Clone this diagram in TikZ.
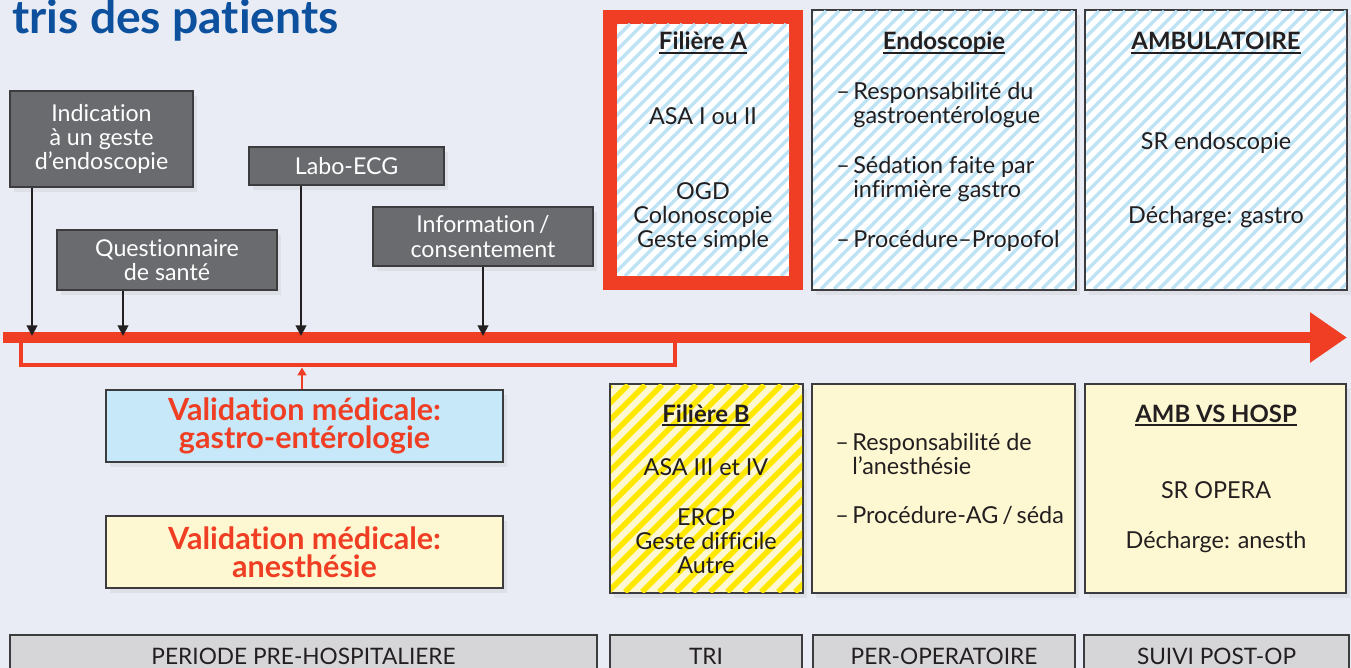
\documentclass[tikz,border=0pt]{standalone}
\usepackage{fontspec}
\setmainfont[Ligatures=NoCommon]{Lato}
\usetikzlibrary{arrows.meta, positioning, shadows}

\definecolor{bgcol}{RGB}{233,236,244}
\definecolor{redline}{RGB}{239,62,35}
\definecolor{boxgray}{RGB}{106,107,111}
\definecolor{edgegray}{RGB}{60,60,62}
\definecolor{titleblue}{RGB}{12,80,158}
\definecolor{stripeblue}{RGB}{190,227,245}
\definecolor{valblue}{RGB}{198,232,248}
\definecolor{paleyellow}{RGB}{254,248,210}
\definecolor{stripeyellow}{RGB}{255,232,0}
\definecolor{bargray}{RGB}{214,214,216}
\definecolor{textdark}{RGB}{35,31,32}

% underline that ignores descenders
\newcommand{\ulbox}[1]{\setbox0\hbox{#1}\rlap{\rule[-2pt]{\wd0}{1.1pt}}\box0}
\newcommand{\itemdash}{\makebox[0.34cm][l]{–}}
\newcommand{\itemgap}{\hspace*{0.34cm}}
% diagonal stripes inside a rectangle
\newcommand{\hatchfill}[6]{%
  \begin{scope}
    \clip (#1,#2) rectangle (#3,#4);
    \pgfmathtruncatemacro{\nstripe}{(#3-#1+#4-#2)/#5+1}
    \foreach \i in {0,...,\nstripe}
      \draw[#6] ({#1-(#4-#2)+\i*#5},#4) -- ++({#4-#2},{-(#4-#2)});
  \end{scope}}

\begin{document}
\begin{tikzpicture}[x=0.02cm, y=-0.02cm,
    boxsize/.style 2 args={minimum width=#1*0.02cm, minimum height=#2*0.02cm},
    soft/.style={drop shadow={opacity=0.1, shadow xshift=2pt, shadow yshift=-3pt}},
    greybox/.style={soft, draw=edgegray, fill=boxgray, text=white, line width=0.9pt, align=center, inner sep=0pt, font=\fontsize{13.2}{13.9}\selectfont},
    valbox/.style={soft, draw=edgegray, line width=0.7pt, align=center, inner sep=0pt, text=redline, font=\fontsize{17.4}{16.2}\selectfont\bfseries},
    panel/.style={soft, draw=edgegray, line width=0.9pt, inner sep=0pt},
    phase/.style={draw=edgegray, fill=bargray, line width=0.9pt, inner sep=0pt, text=textdark, font=\fontsize{12.9}{12.9}\selectfont},
    paneltext/.style={text=textdark, align=center, inner sep=0pt, anchor=base, font=\fontsize{13.3}{13.66}\selectfont},
    paneltitle/.style={paneltext, font=\fontsize{13.6}{13.66}\selectfont\bfseries},
    itemtext/.style={paneltext, align=left, anchor=base west},
    stripeA/.style={stripeblue, line width=0.07cm},
    stripeB/.style={stripeyellow, line width=0.11cm},
    pointer/.style={-{Triangle[length=6pt,width=6pt]}, line width=1.1pt, textdark},
  ]
  \clip (0,0) rectangle (1351,668);
  \fill[bgcol] (0,0) rectangle (1351,668);

  \node[anchor=base west, inner sep=0pt, text=titleblue, font=\fontsize{26.3}{26}\selectfont\bfseries] (title) at (12,34) {tris des patients};

  % steps before the procedure
  \node[greybox, boxsize={183}{96}] (indic) at (101.5,139) {Indication\\à un geste\\d’endoscopie};
  \node[greybox, boxsize={220}{60}] (quest) at (167,260) {Questionnaire\\de santé};
  \node[greybox, boxsize={195}{38}] (labo) at (346.5,166) {Labo-ECG};
  \node[greybox, boxsize={220}{59}] (info) at (483,236.5) {Information\,/\\consentement};

  % time line
  \draw[redline, line width=0.22cm, -{Triangle[length=0.74cm, width=0.96cm]}] (3,337.5) -- (1347,337.5);
  \draw[redline, line width=0.08cm] (21,343) |- (675,365.5) -- (675,343);
  \coordinate (t1) at (32,336);
  \coordinate (t2) at (123,336);
  \coordinate (t3) at (301,336);
  \coordinate (t4) at (483,336);
  \coordinate (brk) at (302,367.5);
  \draw[pointer] (indic.south -| t1) -- (t1);
  \draw[pointer] (quest.south -| t2) -- (t2);
  \draw[pointer] (labo.south -| t3) -- (t3);
  \draw[pointer] (info.south -| t4) -- (t4);

  % validation
  \node[valbox, fill=valblue, boxsize={397}{72}] (valgastro) at (304.5,426) {Validation médicale:\\gastro-entérologie};
  \node[valbox, fill=paleyellow, boxsize={397}{72}] (valanest) at (304.5,552) {Validation médicale:\\anesthésie};
  \draw[redline, line width=0.05cm, -{Triangle[length=4.5pt,width=5pt]}] (valgastro.north -| brk) -- (brk);

  % panels
  \node[panel, draw=redline, line width=0.28cm, fill=white, boxsize={186}{266}] (filA) at (703,150) {};
  \node[panel, fill=white, boxsize={264}{280}] (endo) at (944,150) {};
  \node[panel, fill=white, boxsize={262}{280}] (ambu) at (1216,150) {};
  \node[panel, fill=paleyellow, boxsize={193}{209}] (filB) at (706.5,488.5) {};
  \node[panel, fill=paleyellow, boxsize={263}{209}] (perop) at (943.5,488.5) {};
  \node[panel, fill=paleyellow, boxsize={261}{209}] (hosp) at (1215.5,488.5) {};
  \hatchfill{617}{24}{789}{276}{13}{stripeA}
  \hatchfill{813}{11}{1075}{289}{13}{stripeA}
  \hatchfill{1086}{11}{1346}{289}{13}{stripeA}
  \hatchfill{611}{385}{802}{592}{17}{stripeB}

  \node[paneltitle] (filAtitle) at (703,50) {\ulbox{Filière A}};
  \node[paneltext] (filAasa) at (703,125) {ASA I ou II};
  \node[paneltext] (filAgeste) at (703,248) {OGD\\Colonoscopie\\Geste simple};

  \node[paneltitle] (endotitle) at (944,50) {\ulbox{Endoscopie}};
  \node[itemtext] (endo1) at (836,124) {\itemdash Responsabilité du\\\itemgap gastroentérologue};
  \node[itemtext] (endo2) at (836,198) {\itemdash Sédation faite par\\\itemgap infirmière gastro};
  \node[itemtext] (endo3) at (836,248) {\itemdash Procédure–Propofol};

  \node[paneltitle] (ambutitle) at (1216,50) {\ulbox{AMBULATOIRE}};
  \node[paneltext] (ambusr) at (1216,150) {SR endoscopie};
  \node[paneltext] (ambudech) at (1216,224) {Décharge: gastro};

  \node[paneltitle] (filBtitle) at (706,422) {\ulbox{Filière B}};
  \node[paneltext] (filBasa) at (706,475) {ASA III et IV};
  \node[paneltext] (filBgeste) at (706,573) {ERCP\\Geste difficile\\Autre};

  \node[itemtext] (perop1) at (835,474) {\itemdash Responsabilité de\\\itemgap l’anesthésie};
  \node[itemtext] (perop2) at (835,523) {\itemdash Procédure-AG\,/\,séda};

  \node[paneltitle] (hosptitle) at (1216,422) {\ulbox{AMB VS HOSP}};
  \node[paneltext] (hospsr) at (1216,498) {SR OPERA};
  \node[paneltext] (hospdech) at (1216,548) {Décharge: anesth};

  % phases
  \node[phase, boxsize={587}{43}] (prehosp) at (303.5,656.5) {PERIODE PRE-HOSPITALIERE};
  \node[phase, boxsize={192}{43}] (tri) at (706,656.5) {TRI};
  \node[phase, boxsize={262}{43}] (perphase) at (944,656.5) {PER-OPERATOIRE};
  \node[phase, boxsize={265}{43}] (suivi) at (1216.5,656.5) {SUIVI POST-OP};
\end{tikzpicture}
\end{document}
